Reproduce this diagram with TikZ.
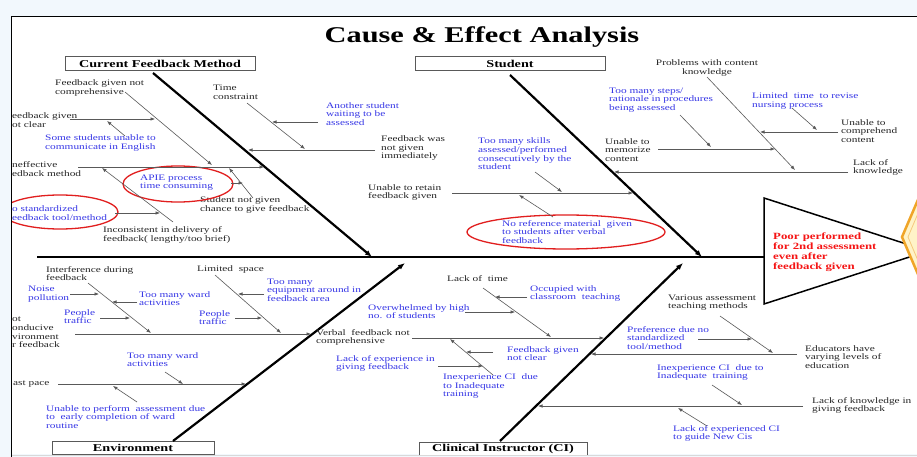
\documentclass[tikz,border=0pt]{standalone}
\usepackage{fontspec}
\setmainfont{Liberation Serif}[FakeStretch=1.35]
\usetikzlibrary{arrows.meta}

\definecolor{slideBg}{RGB}{242,248,253}
\definecolor{ideaBlue}{RGB}{55,55,230}
\definecolor{ringRed}{RGB}{225,30,30}
\definecolor{effectRed}{RGB}{245,20,20}
\definecolor{gemOrange}{RGB}{240,165,40}
\definecolor{gemYellow}{RGB}{255,243,200}

\begin{document}
\begin{tikzpicture}[x=1pt, y=-1pt,
  bone/.style={line width=2.2pt, -{Latex[length=7pt,width=5.5pt]}},
  sub/.style={line width=0.6pt, draw=black!65, -{Latex[length=4.5pt,width=3.5pt]}},
  cause/.style={anchor=west, align=left, inner sep=0pt, text=black!85, font=\fontsize{8.4}{8.7}\selectfont},
  idea/.style={cause, text=ideaBlue},
  catbox/.style={draw=black!65, line width=1pt, fill=white, inner sep=0pt, font=\fontsize{10.5}{12}\selectfont\bfseries},
  ring/.style={draw=ringRed, line width=1.3pt}
]
\useasboundingbox (0,0) rectangle (917,457);
\clip (0,0) rectangle (917,457);
\fill[slideBg] (0,0) rectangle (917,457);
\fill[white] (12,17) rectangle (917,454);
\draw[black!15, line width=1pt] (12,455.5) -- (917,455.5);

\begin{scope}
\clip (12,17) rectangle (917,454);

\node[font=\fontsize{22.5}{24}\selectfont\bfseries, anchor=base] (title) at (482,43) {Cause \& Effect Analysis};

% spine and head
\coordinate (tailEnd) at (37,257);
\coordinate (headL) at (764,257);
\coordinate (hTop) at (764,198);
\coordinate (hApex) at (928,251);
\coordinate (hBot) at (764,304);
\draw[line width=2.6pt] (tailEnd) -- (headL);
\draw[line width=1.5pt, fill=white] (hTop) -- (hApex) -- (hBot) -- cycle;
\node[anchor=west, align=left, inner sep=0pt, text=effectRed, font=\fontsize{9.5}{10}\selectfont\bfseries] (effect) at (773,252) {Poor performed\\for 2nd assessment\\even after\\feedback given};
\draw[gemOrange, line width=2.5pt, fill=gemYellow] (902,237) -- (935,160) -- (968,237) -- (935,314) -- cycle;
\draw[gemOrange!60, line width=0.8pt] (908,237) -- (935,173) -- (962,237) -- (935,301) -- cycle;

% category boxes and main bones
\node[catbox, minimum width=190pt, minimum height=14pt] (cfmBox) at (160,64) {Current Feedback Method};
\node[catbox, minimum width=190pt, minimum height=14pt] (stuBox) at (510,64) {Student};
\node[catbox, minimum width=162pt, minimum height=13pt] (envBox) at (133,447.5) {Environment};
\node[catbox, minimum width=168pt, minimum height=13pt] (ciBox) at (503,448.5) {Clinical Instructor (CI)};

\coordinate (cfmTop) at (153,73);   \coordinate (cfmTip) at (372,257);
\coordinate (stuTop) at (510,75);   \coordinate (stuTip) at (702,257);
\coordinate (envBot) at (173,441);  \coordinate (envTip) at (405,263);
\coordinate (ciBot) at (500,441);   \coordinate (ciTip) at (683,263);
\draw[bone] (cfmTop) -- (cfmTip);
\draw[bone] (stuTop) -- (stuTip);
\draw[bone] (envBot) -- (envTip);
\draw[bone] (ciBot) -- (ciTip);

% Current Feedback Method
\node[cause] (fbNotComp) at (55,88) {Feedback given not\\comprehensive};
\node[cause] (fbNotClear) at (12,120) {eedback given\\ot clear};
\node[idea] (english) at (45,143) {Some students unable to\\communicate in English};
\node[cause] (ineffective) at (12,169) {neffective\\edback method};
\node[idea] (apie) at (140,182.5) {APIE process\\time consuming};
\node[idea] (noStd) at (12,213) {o standardized\\eedback tool/method};
\node[cause] (inconsistent) at (103,235) {Inconsistent in delivery of\\feedback( lengthy/too brief)};
\node[cause] (noChance) at (200,205) {Student not given\\chance to give feedback};
\node[cause] (timeCon) at (213,92) {Time\\constraint};
\node[idea] (waiting) at (326,114) {Another student\\waiting to be\\assessed};
\node[cause] (notImm) at (381,148) {Feedback was\\not given\\immediately};

\draw[ring] (178,184) ellipse [x radius=55pt, y radius=18pt];
\draw[ring] (60,212) ellipse [x radius=58pt, y radius=17pt];

\coordinate (cfA0) at (70,119);  \coordinate (cfA1) at (155,119);
\coordinate (cfS0) at (125,136); \coordinate (cfS1) at (107,121);
\coordinate (cfB0) at (125,92);  \coordinate (cfB1) at (212,165);
\coordinate (cfC0) at (78,167);  \coordinate (cfC1) at (264,167);
\coordinate (cfI0) at (173,222); \coordinate (cfI1) at (102,168);
\coordinate (cfD0) at (115,213); \coordinate (cfD1) at (160,213);
\coordinate (cfN0) at (253,198); \coordinate (cfN1) at (229,168);
\coordinate (cfP0) at (231,183); \coordinate (cfP1) at (243,183);
\coordinate (cfT0) at (247,103); \coordinate (cfT1) at (305,149);
\coordinate (cfE0) at (375,150); \coordinate (cfE1) at (248,150);
\coordinate (cfF0) at (318,122); \coordinate (cfF1) at (272,122);
\draw[sub] (cfA0) -- (cfA1);
\draw[sub] (cfS0) -- (cfS1);
\draw[sub] (cfB0) -- (cfB1);
\draw[sub] (cfC0) -- (cfC1);
\draw[sub] (cfI0) -- (cfI1);
\draw[sub] (cfD0) -- (cfD1);
\draw[sub] (cfN0) -- (cfN1);
\draw[sub] (cfP0) -- (cfP1);
\draw[sub] (cfT0) -- (cfT1);
\draw[sub] (cfE0) -- (cfE1);
\draw[sub] (cfF0) -- (cfF1);

% Student
\node[idea] (manySkills) at (478,154) {Too many skills\\assessed/performed\\consecutively by the\\student};
\node[cause] (retain) at (368,192.5) {Unable to retain\\feedback given};
\node[idea] (noRef) at (502,232) {No reference material\ \ given\\to students after verbal\\feedback};
\node[cause] (memorize) at (605,150) {Unable to\\memorize\\content};
\node[idea] (manySteps) at (609,100) {Too many steps/\\rationale in procedures\\being assessed};
\node[cause, anchor=center, align=center] (contentProb) at (707,68) {Problems with content\\knowledge};
\node[cause] (comprehend) at (841,131) {Unable to\\comprehend\\content};
\node[cause] (lackKnow) at (853,167.5) {Lack of\\knowledge};
\node[idea] (reviseTime) at (752,101) {Limited\ \ time\ \ to revise\\nursing process};

\draw[ring] (566,232) ellipse [x radius=99pt, y radius=17pt];

\coordinate (stG0) at (452,193); \coordinate (stG1) at (633,193);
\coordinate (stK0) at (535,172); \coordinate (stK1) at (562,192);
\coordinate (stR0) at (553,217); \coordinate (stR1) at (519,195);
\coordinate (stH0) at (658,149); \coordinate (stH1) at (775,149);
\coordinate (stS0) at (680,115); \coordinate (stS1) at (711,147);
\coordinate (stP0) at (707,77);  \coordinate (stP1) at (795,170);
\coordinate (stL0) at (848,172); \coordinate (stL1) at (614,172);
\coordinate (stJ0) at (838,132); \coordinate (stJ1) at (760,132);
\coordinate (stT0) at (792,108); \coordinate (stT1) at (817,130);
\draw[sub] (stG0) -- (stG1);
\draw[sub] (stK0) -- (stK1);
\draw[sub] (stR0) -- (stR1);
\draw[sub] (stH0) -- (stH1);
\draw[sub] (stS0) -- (stS1);
\draw[sub] (stP0) -- (stP1);
\draw[sub] (stL0) -- (stL1);
\draw[sub] (stJ0) -- (stJ1);
\draw[sub] (stT0) -- (stT1);

% Environment
\node[cause] (interf) at (46,273.5) {Interference during\\feedback};
\node[idea] (noise) at (28,294) {Noise\\pollution};
\node[idea] (wardA) at (139,298.5) {Too many ward\\activities};
\node[idea] (trafficA) at (64,316.5) {People\\traffic};
\node[cause] (conducive) at (12,332.5) {ot\\onducive\\vironment\\r feedback};
\node[cause] (space) at (197,269) {Limited\ \ space};
\node[idea] (equip) at (267,290) {Too many\\equipment around in\\feedback area};
\node[idea] (trafficB) at (199,317.5) {People\\traffic};
\node[idea] (wardB) at (127,359.5) {Too many ward\\activities};
\node[cause] (pace) at (13,384) {ast pace};
\node[idea] (routine) at (46,417) {Unable to perform\ \ assessment due\\to\ \ early completion of ward\\routine};

\coordinate (enI0) at (88,283);  \coordinate (enI1) at (151,333);
\coordinate (enN0) at (70,294);  \coordinate (enN1) at (99,294);
\coordinate (enW0) at (137,302); \coordinate (enW1) at (112,302);
\coordinate (enP0) at (100,318); \coordinate (enP1) at (130,318);
\coordinate (enK0) at (75,334);  \coordinate (enK1) at (311,334);
\coordinate (enS0) at (215,275); \coordinate (enS1) at (281,333);
\coordinate (enQ0) at (264,294); \coordinate (enQ1) at (238,294);
\coordinate (enR0) at (235,318); \coordinate (enR1) at (262,318);
\coordinate (enV0) at (165,372); \coordinate (enV1) at (183,384);
\coordinate (enL0) at (58,384);  \coordinate (enL1) at (246,384);
\coordinate (enU0) at (137,402); \coordinate (enU1) at (113,386);
\draw[sub] (enI0) -- (enI1);
\draw[sub] (enN0) -- (enN1);
\draw[sub] (enW0) -- (enW1);
\draw[sub] (enP0) -- (enP1);
\draw[sub] (enK0) -- (enK1);
\draw[sub] (enS0) -- (enS1);
\draw[sub] (enQ0) -- (enQ1);
\draw[sub] (enR0) -- (enR1);
\draw[sub] (enV0) -- (enV1);
\draw[sub] (enL0) -- (enL1);
\draw[sub] (enU0) -- (enU1);

% Clinical Instructor
\node[cause] (lackTime) at (447,279) {Lack of\ \ time};
\node[idea] (classroom) at (530,293.5) {Occupied with\\classroom\ \ teaching};
\node[idea] (highNo) at (368,311.5) {Overwhelmed by high\\no. of students};
\node[cause] (verbal) at (316,337.5) {Verbal\ \ feedback not\\comprehensive};
\node[idea] (inexpA) at (443,386) {Inexperience CI\ \ due\\to Inadequate\\training};
\node[idea] (notClear) at (507,353.5) {Feedback given\\not clear};
\node[idea] (lackExp) at (336,363.5) {Lack of experience in\\giving feedback};
\node[cause] (educators) at (805,357) {Educators have\\varying levels of\\education};
\node[cause] (methods) at (668,302.5) {Various assessment\\teaching methods};
\node[idea] (preference) at (627,338) {Preference due no\\standardized\\tool/method};
\node[cause] (lackKnowFb) at (812,405.5) {Lack of knowledge in\\giving feedback};
\node[idea] (inexpB) at (657,372.5) {Inexperience CI\ \ due to\\Inadequate\ \ training};
\node[idea] (guide) at (673,433.5) {Lack of experienced CI\\to guide New Cis};

\coordinate (ciT0) at (483,288); \coordinate (ciT1) at (551,337);
\coordinate (ciO0) at (527,297); \coordinate (ciO1) at (495,297);
\coordinate (ciH0) at (465,312); \coordinate (ciH1) at (515,312);
\coordinate (ciM0) at (412,338); \coordinate (ciM1) at (604,338);
\coordinate (ciX0) at (493,375); \coordinate (ciX1) at (450,339);
\coordinate (ciF0) at (493,352); \coordinate (ciF1) at (466,352);
\coordinate (ciE0) at (438,366); \coordinate (ciE1) at (483,366);
\coordinate (ciN0) at (797,354); \coordinate (ciN1) at (591,354);
\coordinate (ciV0) at (720,316); \coordinate (ciV1) at (773,353);
\coordinate (ciR0) at (698,339); \coordinate (ciR1) at (752,339);
\coordinate (ciK0) at (803,406); \coordinate (ciK1) at (538,406);
\coordinate (ciY0) at (712,385); \coordinate (ciY1) at (742,405);
\coordinate (ciG0) at (707,426); \coordinate (ciG1) at (678,408);
\draw[sub] (ciT0) -- (ciT1);
\draw[sub] (ciO0) -- (ciO1);
\draw[sub] (ciH0) -- (ciH1);
\draw[sub] (ciM0) -- (ciM1);
\draw[sub] (ciX0) -- (ciX1);
\draw[sub] (ciF0) -- (ciF1);
\draw[sub] (ciE0) -- (ciE1);
\draw[sub] (ciN0) -- (ciN1);
\draw[sub] (ciV0) -- (ciV1);
\draw[sub] (ciR0) -- (ciR1);
\draw[sub] (ciK0) -- (ciK1);
\draw[sub] (ciY0) -- (ciY1);
\draw[sub] (ciG0) -- (ciG1);
\end{scope}

% frame
\draw[line width=1.8pt] (11.5,457) -- (11.5,16.5) -- (917,16.5);
\end{tikzpicture}
\end{document}
